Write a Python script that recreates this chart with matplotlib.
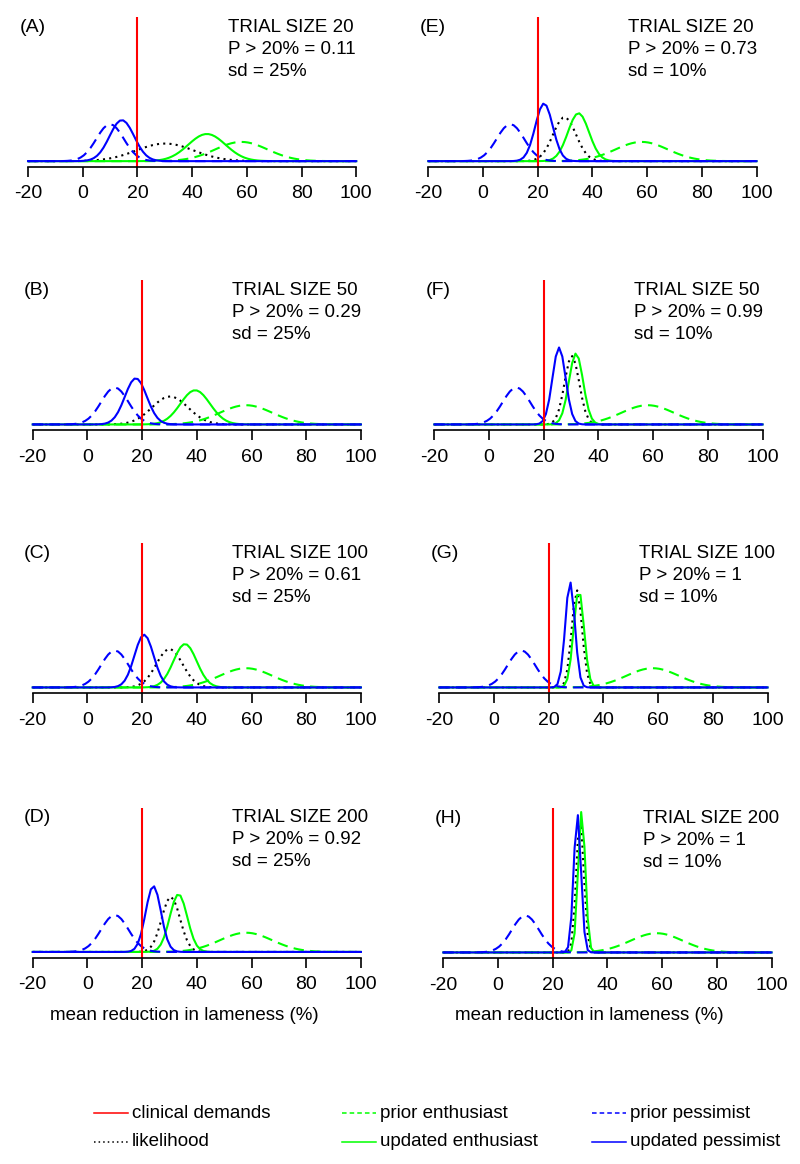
import numpy as np
import matplotlib
matplotlib.use("Agg")
import matplotlib.pyplot as plt
from matplotlib.lines import Line2D

plt.rcParams["font.family"] = ["Liberation Sans", "DejaVu Sans"]
plt.rcParams["axes.unicode_minus"] = False

# ---------------------------------------------------------------------------
# Data: normal curves given as mean / sd per panel
# ---------------------------------------------------------------------------
PANELS = ["A", "B", "C", "D", "E", "F", "G", "H"]
TRIAL_SIZE = [20, 50, 100, 200, 20, 50, 100, 200]
P_ABOVE = ["0.11", "0.29", "0.61", "0.92", "0.73", "0.99", "1", "1"]
SD_PCT = [25, 25, 25, 25, 10, 10, 10, 10]

CLINICAL_DEMAND = 20

PRIOR_PESS_MEAN, PRIOR_PESS_SD = 10, 5.0
PRIOR_ENTH_MEAN, PRIOR_ENTH_SD = 58, 9.6

LIK_MEAN = [30.1, 30.2, 30.0, 30.5, 29.8, 30.3, 30.3, 30.0]
LIK_SD = [10.5, 6.6, 4.8, 3.35, 4.2, 2.7, 1.9, 1.38]

UPD_PESS_MEAN = [14.3, 17.7, 20.7, 24.1, 22.3, 25.6, 27.8, 29.0]
UPD_PESS_SD = [4.5, 4.0, 3.5, 2.8, 3.2, 2.4, 1.75, 1.33]

UPD_ENTH_MEAN = [45.4, 39.4, 35.7, 33.3, 34.9, 31.8, 31.0, 30.6]
UPD_ENTH_SD = [6.8, 5.4, 4.25, 3.2, 3.85, 2.6, 1.9, 1.3]

X_TICKS = [-20, 0, 20, 40, 60, 80, 100]

# ---------------------------------------------------------------------------
# Layout (pixels in an 800 x 1164 canvas)
# ---------------------------------------------------------------------------
W, H = 800, 1164
PX_PER_UNIT = 2.735
AX_LEFT_PX = [14.9, 19.6, 19.6, 19.6, 415.2, 421.2, 426.2, 430.2]
AX_BOTTOM_PX = [166.7, 430, 693, 957.5, 166.7, 430, 693, 958]
AX_HEIGHT_PX = 150
XLIM = (-24.8, 104.8)
YLIM = (-0.012, 0.312)

RED = "#FF0000"
GREEN = "#00FF00"
BLUE = "#0000FF"
LW = 1.5
DASH = (0, (5, 3))
DOT = (0, (1, 2))


def npdf(x, m, s):
    return np.exp(-0.5 * ((x - m) / s) ** 2) / (s * np.sqrt(2 * np.pi))


xs = np.linspace(-20, 100, 101)

fig = plt.figure(figsize=(W / 100, H / 100), dpi=100)

for i, name in enumerate(PANELS):
    width_px = (XLIM[1] - XLIM[0]) * PX_PER_UNIT
    ax = fig.add_axes([
        AX_LEFT_PX[i] / W,
        1 - AX_BOTTOM_PX[i] / H,
        width_px / W,
        AX_HEIGHT_PX / H,
    ])

    ax.plot(xs, npdf(xs, LIK_MEAN[i], LIK_SD[i]), color="black", lw=LW, ls=DOT)
    ax.plot(xs, npdf(xs, PRIOR_ENTH_MEAN, PRIOR_ENTH_SD), color=GREEN, lw=LW, ls=DASH)
    ax.plot(xs, npdf(xs, UPD_ENTH_MEAN[i], UPD_ENTH_SD[i]), color=GREEN, lw=LW)
    ax.plot(xs, npdf(xs, PRIOR_PESS_MEAN, PRIOR_PESS_SD), color=BLUE, lw=LW, ls=DASH)
    ax.plot(xs, npdf(xs, UPD_PESS_MEAN[i], UPD_PESS_SD[i]), color=BLUE, lw=LW)
    ax.axvline(CLINICAL_DEMAND, color=RED, lw=LW)

    ax.set_xlim(*XLIM)
    ax.set_ylim(*YLIM)
    for side in ("left", "top", "right"):
        ax.spines[side].set_visible(False)
    ax.spines["bottom"].set_bounds(-20, 100)
    ax.spines["bottom"].set_linewidth(1.2)
    ax.set_yticks([])
    ax.set_xticks(X_TICKS)
    ax.tick_params(axis="x", direction="out", length=7, width=1.2,
                   labelsize=14, pad=6.5)
    ax.patch.set_visible(False)

    ax.text(-23.2, 1 - 10.5 / AX_HEIGHT_PX, f"({name})", fontsize=14,
            transform=ax.get_xaxis_transform(), va="center", ha="left")
    lines = [f"TRIAL SIZE {TRIAL_SIZE[i]}",
             f"P > 20% = {P_ABOVE[i]}",
             f"sd = {SD_PCT[i]}%"]
    for k, line in enumerate(lines):
        ax.text(53, 1 - (10.5 + 22 * k) / AX_HEIGHT_PX, line, fontsize=13.5,
                transform=ax.get_xaxis_transform(), va="center", ha="left")

# x labels under the bottom row
for cx in (184, 589):
    fig.text(cx / W, 1 - 1015 / H, "mean reduction in lameness (%)",
             fontsize=13.5, ha="center", va="center")

# ---------------------------------------------------------------------------
# Legend (three columns, two rows)
# ---------------------------------------------------------------------------
legend_items = [
    (94, 1113, RED, "-", "clinical demands"),
    (94, 1142, "black", DOT, "likelihood"),
    (342, 1113, GREEN, (0, (3, 2)), "prior enthusiast"),
    (342, 1142, GREEN, "-", "updated enthusiast"),
    (592, 1113, BLUE, (0, (3, 2)), "prior pessimist"),
    (592, 1142, BLUE, "-", "updated pessimist"),
]
for x0, y0, col, ls, label in legend_items:
    yf = 1 - y0 / H
    fig.add_artist(Line2D([x0 / W, (x0 + 34) / W], [yf, yf], color=col,
                          lw=1.1, ls=ls, transform=fig.transFigure))
    fig.text((x0 + 38) / W, yf, label, fontsize=13.5, ha="left", va="center")

fig.savefig("out.png", dpi=100)
